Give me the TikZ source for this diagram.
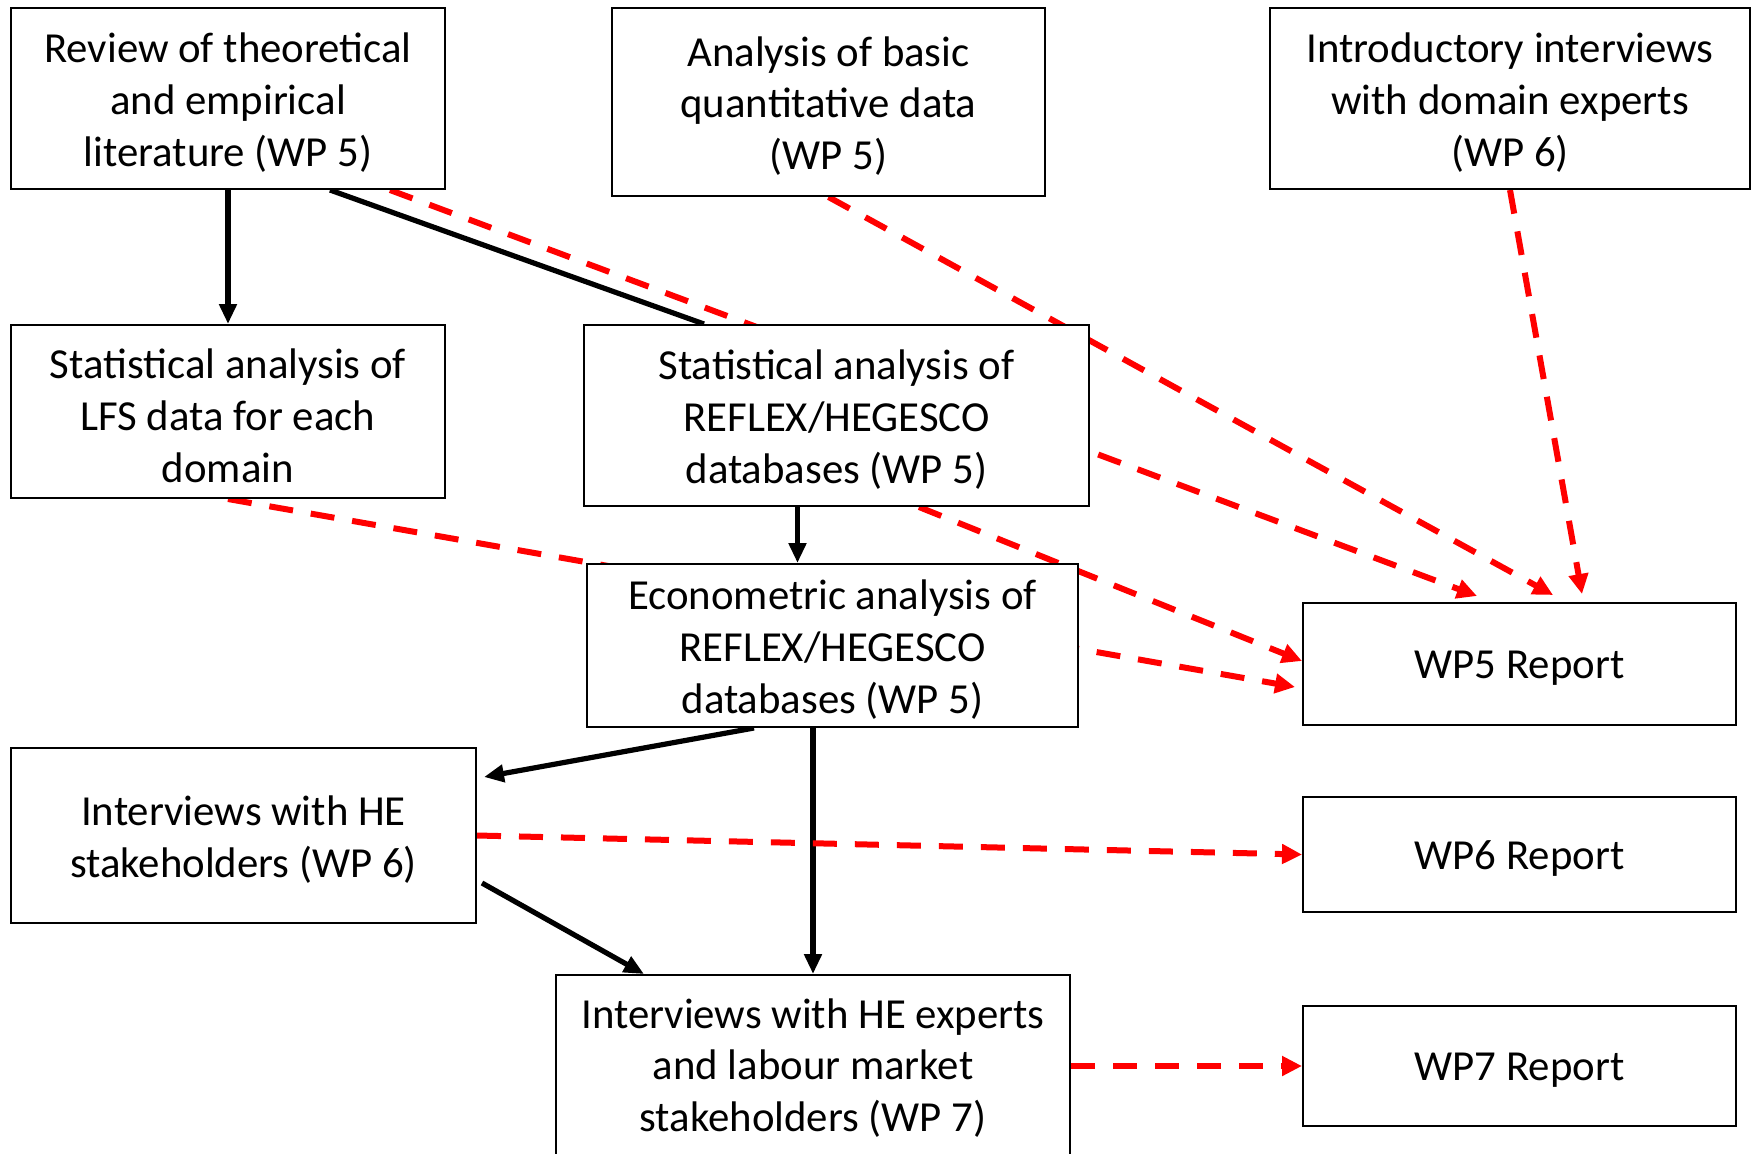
\documentclass[tikz,border=0pt]{standalone}
\usepackage{fontspec}
\setmainfont{Carlito}
\usetikzlibrary{arrows.meta,backgrounds}
\tikzset{
 box/.style={draw=black, line width=1pt, fill=white, inner sep=0pt},
 txt/.style={align=center, inner sep=0pt, font=\fontsize{21.4pt}{25.9pt}\selectfont},
 blk/.style={black, line width=2.6pt, -{Triangle[length=10pt,width=8.5pt]}},
 blkline/.style={black, line width=2.6pt},
 reddash/.style={red, line width=3pt, dash pattern=on 12pt off 9pt, -{Triangle[length=10pt,width=9.5pt]}},
}
\begin{document}
\begin{tikzpicture}[x=0.5pt,y=-0.5pt]
\clip (0,0) rectangle (1752,1153);
\node[box, minimum width=217pt, minimum height=90.5pt] (A) at (228,98.5) {};
\node[txt] (At) at ([yshift=-2pt]A.center) {Review of theoretical\\and empirical\\literature (WP 5)};
\node[box, minimum width=216.5pt, minimum height=94pt] (B) at (828.5,102) {};
\node[txt] (Bt) at ([yshift=-2pt]B.center) {Analysis of basic\\quantitative data\\(WP 5)};
\node[box, minimum width=240pt, minimum height=90.5pt] (C) at (1510,98.5) {};
\node[txt] (Ct) at ([yshift=-2pt]C.center) {Introductory interviews\\with domain experts\\(WP 6)};
\node[box, minimum width=217pt, minimum height=86.5pt] (D) at (228,411.5) {};
\node[txt] (Dt) at ([yshift=-2pt]D.center) {Statistical analysis of\\LFS data for each\\domain};
\node[box, minimum width=252.5pt, minimum height=90.5pt] (E) at (836.5,415.5) {};
\node[txt] (Et) at ([yshift=-2pt]E.center) {Statistical analysis of\\REFLEX/HEGESCO\\databases (WP 5)};
\node[box, minimum width=245.5pt, minimum height=81.5pt] (F) at (832.5,645.5) {};
\node[txt] (Ft) at ([yshift=-2pt]F.center) {Econometric analysis of\\REFLEX/HEGESCO\\databases (WP 5)};
\node[box, minimum width=232.5pt, minimum height=87.5pt] (G) at (243.5,835.5) {};
\node[txt] (Gt) at ([yshift=-2pt]G.center) {Interviews with HE\\stakeholders (WP 6)};
\node[box, minimum width=257pt, minimum height=95pt] (H) at (813,1070) {};
\node[txt] (Ht) at (813,1068) {Interviews with HE experts\\and labour market\\stakeholders (WP 7)};
\node[box, minimum width=216.5pt, minimum height=61pt] (R5) at (1519.5,664) {};
\node[txt] (R5t) at ([yshift=-2pt]R5.center) {WP5 Report};
\node[box, minimum width=216.5pt, minimum height=57.5pt] (R6) at (1519.5,854.5) {};
\node[txt] (R6t) at ([yshift=-2pt]R6.center) {WP6 Report};
\node[box, minimum width=216.5pt, minimum height=60pt] (R7) at (1519.5,1066) {};
\node[txt] (R7t) at ([yshift=-2pt]R7.center) {WP7 Report};
\begin{scope}[on background layer]
\fill[white] (0,0) rectangle (1752,1153);
\draw[blk] (A.south) -- (D.north);
\draw[blkline] ([xshift=51pt]A.south) -- ([xshift=-66.25pt]E.north);
\draw[blk] ([xshift=-19.5pt]E.south) -- ([xshift=-17.5pt]F.north);
\draw[blk] ([xshift=-39.25pt]F.south) -- ([xshift=3.5pt,yshift=29.25pt]G.east);
\draw[blk] ([xshift=-9.75pt]F.south) -- (H.north);
\draw[blk] ([xshift=2.5pt,yshift=-23.75pt]G.east) -- ([xshift=-84.5pt]H.north);
\draw[reddash] ([xshift=81pt]A.south) -- ([xshift=-21.25pt,yshift=3pt]R5.north);
\draw[reddash] (B.south) -- ([xshift=16.75pt,yshift=3.5pt]R5.north);
\draw[reddash] (C.south) -- ([xshift=31.25pt,yshift=4pt]R5.north);
\draw[reddash] ([xshift=41.25pt]E.south) -- ([yshift=1.5pt]R5.west);
\draw[reddash] (D.south) -- ([xshift=-3.5pt,yshift=-11.5pt]R5.west);
\draw[reddash] (G.east) -- (R6.west);
\draw[reddash] ([yshift=2pt]H.east) -- (R7.west);
\end{scope}
\end{tikzpicture}
\end{document}
